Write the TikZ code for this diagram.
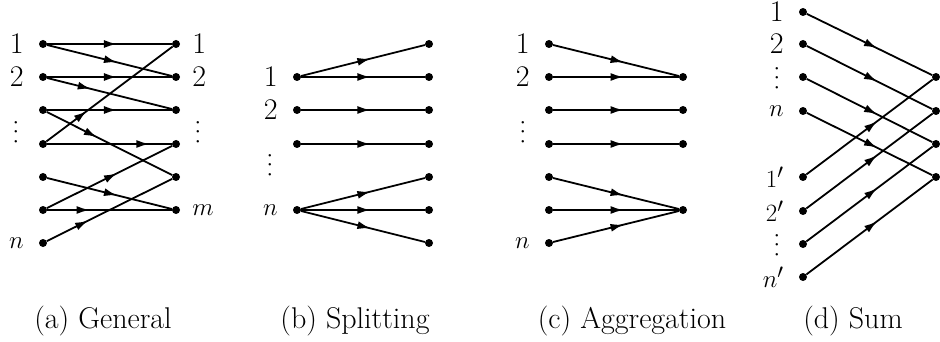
\documentclass[tikz,border=0pt]{standalone}
\usetikzlibrary{arrows.meta,decorations.markings,positioning}
\newcommand{\vdd}{.\kern2pt.\kern2pt.}

\begin{document}
\begin{tikzpicture}[x=1pt,y=-1pt,
    font=\fontsize{30pt}{36pt}\selectfont,
    vtx/.style={circle,fill,inner sep=0pt,minimum size=8pt},
    lbl/.style={inner sep=0pt},
    vd/.style={inner sep=0pt,rotate=90,text height=3pt,text depth=0pt},
    flow/.style={line width=1.8pt,decoration={markings,
        mark=at position #1 with {\arrow{Latex[length=13pt,width=8pt]}}},
      postaction={decorate}},
    flow/.default=0.56]
    \useasboundingbox (0,0) rectangle (940,342);
    % (a) general
    \foreach \i/\y in {1/44,2/77,3/110,4/144,5/177,6/210,7/243}
      \node[vtx] (al\i) at (43,\y) {};
    \foreach \i/\y in {1/44,2/77,3/110,4/144,5/177,6/210}
      \node[vtx] (ar\i) at (176,\y) {};
    \node[lbl,left=15pt of al1] (at1) {1};
    \node[lbl,left=15pt of al2] (at2) {2};
    \node[vd] (at3) at (16,132) {\vdd};
    \node[lbl,left=15pt of al7] (at7) {$n$};
    \node[lbl,right=12pt of ar1] (as1) {1};
    \node[lbl,right=12pt of ar2] (as2) {2};
    \node[vd] (as3) at (198,132) {\vdd};
    \node[lbl,right=12pt of ar6] (as6) {$m$};
    \draw[flow] (al1) to (ar1);
    \draw[flow] (al1) to (ar2);
    \draw[flow] (al2) to (ar2);
    \draw[flow=0.35] (al2) to (ar3);
    \draw[flow] (al3) to (ar3);
    \draw[flow=0.4] (al3) to (ar5);
    \draw[flow=0.32] (al4) to (ar1);
    \draw[flow=0.82] (al4) to (ar4);
    \draw[flow] (al5) to (ar6);
    \draw[flow] (al6) to (ar4);
    \draw[flow=0.34] (al6) to (ar6);
    \draw[flow=0.33] (al7) to (ar5);
    \node[anchor=base] (acap) at (103,328) {(a) General};
    % (b) splitting
    \foreach \i/\y in {1/77,2/110,3/144,4/210}
      \node[vtx] (bl\i) at (297,\y) {};
    \foreach \i/\y in {1/44,2/77,3/110,4/144,5/177,6/210,7/243}
      \node[vtx] (br\i) at (429,\y) {};
    \node[lbl,left=15pt of bl1] (bt1) {1};
    \node[lbl,left=15pt of bl2] (bt2) {2};
    \node[vd] (bt3) at (270,165) {\vdd};
    \node[lbl,left=15pt of bl4] (bt4) {$n$};
    \draw[flow] (bl1) to (br1);
    \draw[flow] (bl1) to (br2);
    \draw[flow] (bl2) to (br3);
    \draw[flow] (bl3) to (br4);
    \draw[flow] (bl4) to (br5);
    \draw[flow] (bl4) to (br6);
    \draw[flow] (bl4) to (br7);
    \node[anchor=base] (bcap) at (355,328) {(b) Splitting};
    % (c) aggregation
    \foreach \i/\y in {1/44,2/77,3/110,4/144,5/177,6/210,7/243}
      \node[vtx] (cl\i) at (549,\y) {};
    \foreach \i/\y in {1/77,2/110,3/144,4/210}
      \node[vtx] (cr\i) at (683,\y) {};
    \node[lbl,left=15pt of cl1] (ct1) {1};
    \node[lbl,left=15pt of cl2] (ct2) {2};
    \node[vd] (ct3) at (523,132) {\vdd};
    \node[lbl,left=15pt of cl7] (ct7) {$n$};
    \draw[flow] (cl1) to (cr1);
    \draw[flow] (cl2) to (cr1);
    \draw[flow] (cl3) to (cr2);
    \draw[flow] (cl4) to (cr3);
    \draw[flow] (cl5) to (cr4);
    \draw[flow] (cl6) to (cr4);
    \draw[flow] (cl7) to (cr4);
    \node[anchor=base] (ccap) at (632,328) {(c) Aggregation};
    % (d) sum
    \foreach \i/\y in {1/12,2/44,3/77,4/111,5/177,6/211,7/244,8/277}
      \node[vtx] (dl\i) at (803,\y) {};
    \foreach \i/\y in {1/77,2/111,3/144,4/177}
      \node[vtx] (dr\i) at (936,\y) {};
    \node[lbl,left=15pt of dl1] (dt1) {1};
    \node[lbl,left=15pt of dl2] (dt2) {2};
    \node[vd] (dt3) at (777,78) {\vdd};
    \node[lbl,left=15pt of dl4] (dt4) {$n$};
    \node[lbl,left=15pt of dl5] (dt5) {$1'$};
    \node[lbl,left=15pt of dl6] (dt6) {$2'$};
    \node[vd] (dt7) at (777,245) {\vdd};
    \node[lbl,left=15pt of dl8] (dt8) {$n'$};
    \foreach \i in {1,...,4}
      \draw[flow] (dl\i) to (dr\i);
    \foreach \i/\j in {5/1,6/2,7/3,8/4}
      \draw[flow] (dl\i) to (dr\j);
    \node[anchor=base] (dcap) at (853,328) {(d) Sum};
\end{tikzpicture}
\end{document}
